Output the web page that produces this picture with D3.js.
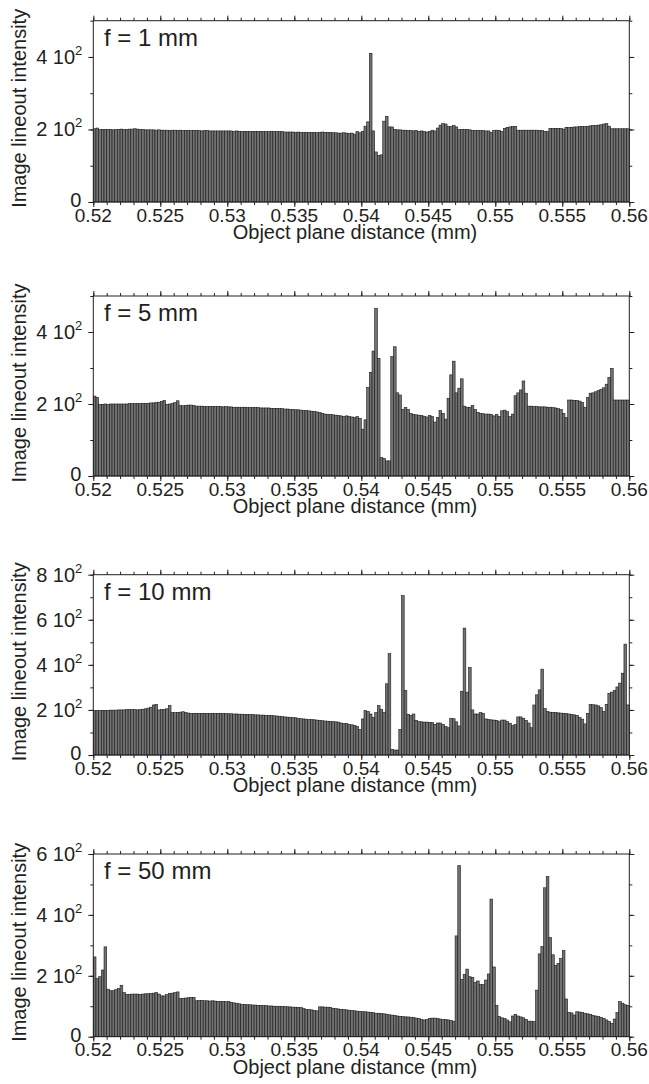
<!DOCTYPE html>
<html>
<head>
<meta charset="utf-8">
<script src="https://cdn.jsdelivr.net/npm/d3@7"></script>
<style>
  body { margin: 0; background: #fff; }
  svg { display: block; }
  text { font-family: "Liberation Sans", Arial, sans-serif; fill: #231f20; }
</style>
</head>
<body>
<svg id="chart" width="649" height="1084"></svg>
<script>
// x axis: object plane distance (mm), 200 bins of 0.0002 mm
const xStart = 0.52;
const xEnd = 0.56;
const binWidth = 0.0002;
const xMajorTicks = [0.52, 0.525, 0.53, 0.535, 0.54, 0.545, 0.55, 0.555, 0.56];
const xMajorLabels = ["0.52", "0.525", "0.53", "0.535", "0.54", "0.545", "0.55", "0.555", "0.56"];

const panelLabels = ["f = 1 mm", "f = 5 mm", "f = 10 mm", "f = 50 mm"];
const yMax = [500, 500, 800, 600];
const yMajorTicks = [[0, 200, 400], [0, 200, 400], [0, 200, 400, 600, 800], [0, 200, 400, 600]];

// image lineout intensity per bin
const f1 = [
  202,204,200,200,200,200,200,199,200,200,
  201,200,200,201,201,202,201,200,200,199,
  199,199,199,198,199,198,198,198,197,198,
  198,197,198,197,197,197,197,197,197,197,
  196,197,197,196,196,196,196,196,196,196,
  196,196,195,196,195,195,195,195,195,195,
  195,195,195,194,194,194,195,194,194,194,
  194,193,193,193,193,192,193,192,192,192,
  192,192,192,191,192,193,192,192,192,191,
  191,190,190,191,190,189,190,187,194,191,
  195,209,221,410,196,138,128,130,223,236,
  207,207,200,199,199,198,198,197,197,196,
  197,195,196,194,193,195,198,196,204,212,
  216,215,208,208,211,207,200,200,200,200,
  199,197,197,197,197,197,196,196,192,197,
  198,197,194,203,206,207,208,208,198,198,
  198,198,198,198,198,198,197,197,195,194,
  203,203,203,203,203,201,206,206,206,207,
  207,208,208,208,209,210,211,211,212,213,
  215,216,209,202,202,202,202,202,202,202
];
const f5 = [
  222,218,199,199,200,199,200,200,200,200,
  200,200,200,201,201,201,201,201,202,202,
  202,203,203,204,205,207,210,199,200,201,
  204,209,196,195,196,197,197,196,194,194,
  194,193,193,193,193,193,193,193,192,193,
  192,192,191,191,191,191,191,190,190,190,
  190,190,189,189,189,189,188,188,188,187,
  187,186,186,185,185,184,184,183,182,182,
  181,180,179,178,176,174,172,171,171,170,
  169,168,167,165,167,166,164,162,165,160,
  130,156,246,288,347,466,327,51,49,42,
  42,332,359,231,225,185,190,185,174,171,
  170,169,168,166,164,168,165,150,163,182,
  174,158,216,281,319,231,244,270,194,191,
  191,196,185,177,174,173,172,172,171,167,
  171,165,181,183,179,165,172,223,231,239,
  264,230,194,194,193,193,192,192,192,191,
  191,190,189,187,185,174,162,211,211,210,
  210,208,204,191,218,230,231,234,237,241,
  245,255,274,299,211,211,211,211,211,211
];
const f10 = [
  197,197,197,198,198,198,199,199,199,200,
  200,200,201,201,201,201,200,202,203,205,
  208,212,222,225,200,201,202,205,219,188,
  188,189,190,192,188,186,185,185,185,185,
  185,185,185,185,185,184,185,184,184,184,
  183,183,182,182,181,181,180,180,179,179,
  178,178,177,177,176,176,175,174,173,172,
  170,169,168,167,166,165,163,161,160,159,
  158,157,156,155,154,152,151,150,149,148,
  147,146,142,140,139,135,134,131,126,114,
  160,197,193,182,167,188,219,203,190,316,
  450,25,22,22,114,707,286,181,176,182,
  154,148,147,146,146,145,144,136,142,142,
  136,126,121,163,161,147,129,283,563,279,
  388,200,182,182,188,184,160,157,156,155,
  154,148,155,155,148,141,130,135,169,169,
  163,154,142,121,222,267,289,381,206,193,
  190,189,188,187,186,185,184,182,180,178,
  176,166,159,138,185,224,223,222,218,210,
  193,225,274,279,286,302,319,363,492,222
];
const f50 = [
  262,191,197,219,295,156,151,151,155,158,
  169,145,139,139,140,140,140,139,140,141,
  141,142,143,145,140,134,134,138,142,143,
  145,147,126,126,127,128,129,129,118,119,
  119,118,118,117,118,117,116,116,116,115,
  115,113,111,110,108,106,106,105,105,104,
  104,103,103,102,102,101,101,100,100,100,
  99,99,98,98,97,97,96,96,92,90,
  89,88,86,85,98,98,97,97,96,93,
  92,91,90,89,88,87,86,85,84,83,
  82,82,81,80,79,77,77,76,75,74,
  72,71,70,68,67,66,65,65,64,63,
  61,60,56,55,56,60,61,61,60,58,
  57,56,55,53,51,331,562,188,205,222,
  197,195,178,183,171,171,186,206,452,229,
  103,66,62,60,55,49,68,73,68,65,
  62,57,51,51,50,153,272,296,489,526,
  326,269,234,241,257,283,124,80,78,71,
  82,81,79,77,75,73,70,68,66,63,
  60,55,50,44,58,79,115,110,105,103
];
const series = [f1, f5, f10, f50];

// layout
const plotLeft = 93.3, plotRight = 629.3;
const panelTops = [20.7, 296, 574.7, 854];
const panelBottoms = [202, 476, 755, 1036.7];

const svg = d3.select("#chart");
const x = d3.scaleLinear().domain([xStart, xEnd]).range([plotLeft, plotRight]);
const xMinorTicks = d3.range(0, 41).map(k => +(xStart + k * 0.001).toFixed(3));

function drawPanel(p) {
  const top = panelTops[p], bottom = panelBottoms[p];
  const y = d3.scaleLinear().domain([0, yMax[p]]).range([bottom, top]);
  const g = svg.append("g").attr("class", "panel-" + p);
  const data = series[p];

  // bars
  g.append("g").selectAll("rect")
    .data(data)
    .join("rect")
    .attr("x", (d, i) => x(xStart + i * binWidth))
    .attr("width", (d, i) => x(xStart + (i + 1) * binWidth) - x(xStart + i * binWidth))
    .attr("y", d => y(d))
    .attr("height", d => bottom - y(d))
    .attr("fill", "#727272")
    .attr("stroke", "#1a1a1a")
    .attr("stroke-width", 0.6);

  const yMinor = d3.range(0, yMax[p] + 1, 100);

  // axes, ticks outward on all four sides
  const axes = [
    [d3.axisBottom(x).tickValues(xMinorTicks).tickSize(3), bottom, 0],
    [d3.axisBottom(x).tickValues(xMajorTicks).tickSize(5), bottom, 0],
    [d3.axisTop(x).tickValues(xMinorTicks).tickSize(3), top, 0],
    [d3.axisTop(x).tickValues(xMajorTicks).tickSize(5), top, 0],
    [d3.axisLeft(y).tickValues(yMinor).tickSize(3), 0, plotLeft],
    [d3.axisLeft(y).tickValues(yMajorTicks[p]).tickSize(5), 0, plotLeft],
    [d3.axisRight(y).tickValues(yMinor).tickSize(3), 0, plotRight],
    [d3.axisRight(y).tickValues(yMajorTicks[p]).tickSize(5), 0, plotRight]
  ];
  axes.forEach(([ax, ty, tx]) => {
    const a = g.append("g")
      .attr("transform", `translate(${tx},${ty})`)
      .call(ax.tickFormat(""));
    a.select(".domain").remove();
    a.selectAll("line").attr("stroke", "#231f20").attr("stroke-width", 1);
  });

  // frame
  g.append("rect")
    .attr("x", plotLeft).attr("y", top)
    .attr("width", plotRight - plotLeft).attr("height", bottom - top)
    .attr("fill", "none").attr("stroke", "#231f20").attr("stroke-width", 1);

  // x tick labels
  g.append("g").selectAll("text")
    .data(xMajorTicks)
    .join("text")
    .attr("x", d => x(d))
    .attr("y", bottom + 19.5)
    .attr("text-anchor", "middle")
    .attr("font-size", 19)
    .text((d, i) => xMajorLabels[i]);

  // y tick labels, written as "n 10^2"
  const yl = g.append("g").selectAll("text")
    .data(yMajorTicks[p])
    .join("text")
    .attr("x", plotLeft - 11)
    .attr("y", d => y(d) + 7)
    .attr("text-anchor", "end")
    .attr("font-size", 20);
  yl.each(function(d) {
    const t = d3.select(this);
    if (d === 0) { t.attr("x", plotLeft - 12).attr("y", y(d) + 5).text("0"); return; }
    t.append("tspan").text((d / 100) + " 10");
    t.append("tspan").attr("font-size", 13).attr("dy", -9).text("2");
  });

  // panel label
  g.append("text")
    .attr("x", 104)
    .attr("y", top + 25)
    .attr("font-size", 24)
    .text(panelLabels[p]);

  // axis titles
  g.append("text")
    .attr("x", 355)
    .attr("y", bottom + 37)
    .attr("text-anchor", "middle")
    .attr("font-size", 20)
    .text("Object plane distance (mm)");

  g.append("text")
    .attr("transform", `translate(26,${(top + bottom) / 2 - 3}) rotate(-90)`)
    .attr("text-anchor", "middle")
    .attr("font-size", 20)
    .text("Image lineout intensity");
}

series.forEach((s, p) => drawPanel(p));
</script>
</body>
</html>
